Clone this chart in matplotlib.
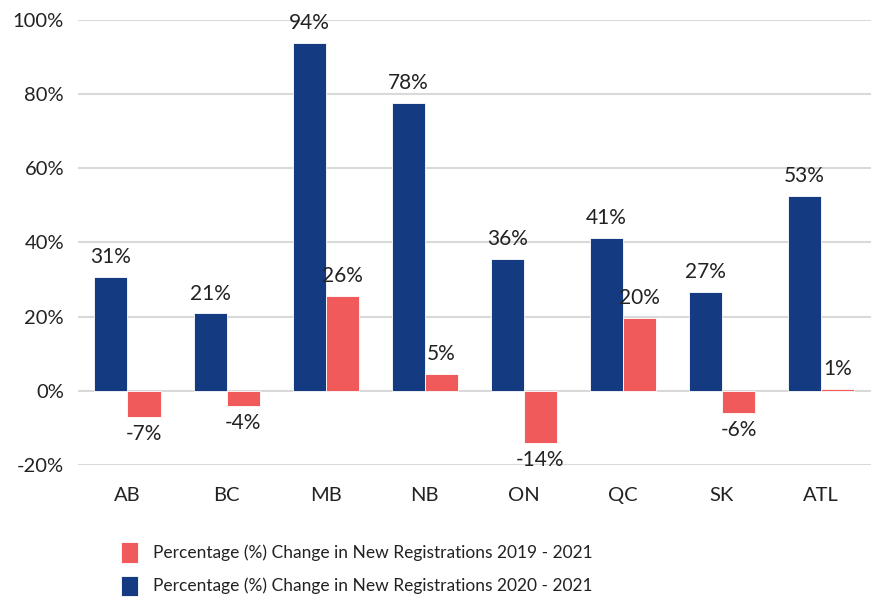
import matplotlib.pyplot as plt
import numpy as np

plt.rcParams['font.family'] = ['Lato', 'DejaVu Sans']

# provinces
categories = ["AB", "BC", "MB", "NB", "ON", "QC", "SK", "ATL"]
# % change 2020 - 2021 (blue)
chg_2020 = [30.8, 20.9, 93.8, 77.6, 35.6, 41.2, 26.7, 52.6]
# % change 2019 - 2021 (red)
chg_2019 = [-7.1, -4.1, 25.6, 4.6, -14.2, 19.6, -5.9, 0.6]

blue = "#143A82"
red = "#F05A5A"
txt = "#222222"

fig = plt.figure(figsize=(8.72, 6.0), dpi=100)
ax = fig.add_axes([0.0894, 0.225, 0.909, 0.7417])

x = np.arange(len(categories))
w = 1 / 3
b1 = ax.bar(x - w / 2, chg_2020, w, color=blue, edgecolor="white", linewidth=0.6,
            label="Percentage (%) Change in New Registrations 2020 - 2021", zorder=3)
b2 = ax.bar(x + w / 2, chg_2019, w, color=red, edgecolor="white", linewidth=0.6,
            label="Percentage (%) Change in New Registrations 2019 - 2021", zorder=3)

for xi, v in zip(x - w / 2, chg_2020):
    ax.annotate(f"{v:.0f}%", (xi, v), xytext=(0, 7), textcoords="offset points",
                ha="center", va="bottom", fontsize=15, color=txt)
for xi, v in zip(x + w / 2, chg_2019):
    off = 7 if v >= 0 else -5
    ax.annotate(f"{v:.0f}%", (xi, v), xytext=(0, off), textcoords="offset points",
                ha="center", va="bottom" if v >= 0 else "top", fontsize=15, color=txt)

ax.set_xlim(-0.5, len(categories) - 0.5)
ax.set_ylim(-20, 100)
ax.set_yticks(range(-20, 101, 20))
ax.set_yticklabels([f"{t}%" for t in range(-20, 101, 20)])
ax.set_xticks(x)
ax.set_xticklabels(categories)
ax.tick_params(axis="both", length=0, labelsize=14.5, colors=txt)
ax.tick_params(axis="x", pad=16)
ax.tick_params(axis="y", pad=10)
ax.grid(axis="y", color="#d9d9d9", linewidth=1.5, zorder=0)
for s in ax.spines.values():
    s.set_visible(False)

ax.legend(handles=[b2, b1], loc="upper center", bbox_to_anchor=(0.352, -0.139),
          frameon=False, fontsize=12.5, handlelength=0.95, handleheight=1.4,
          handletextpad=0.9, labelspacing=0.75, labelcolor=txt)

fig.savefig("out.png", dpi=100)
